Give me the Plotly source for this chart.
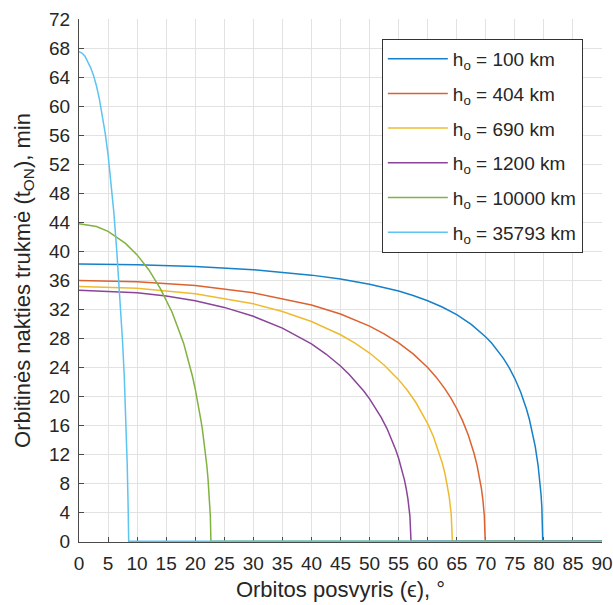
import plotly.graph_objects as go

# Orbit inclination (deg) vs. eclipse duration (min) for several altitudes
beta_100 = [0, 10, 20, 30, 40, 45, 50, 55, 57.5, 60, 62.5, 65, 67.5, 70, 71, 72, 73, 74, 75, 76, 76.5,
            77, 77.5, 78, 78.5, 79, 79.2, 79.5, 79.65, 79.8, 90]
t_100 = [38.2, 38.12, 37.88, 37.43, 36.68, 36.14, 35.43, 34.48, 33.87, 33.15, 32.29, 31.23, 29.89, 28.16, 27.31,
         26.35, 25.24, 23.95, 22.42, 20.56, 19.46, 18.23, 16.80, 15.13, 13.10, 10.46, 9.13, 6.54, 4.65, 0, 0]

beta_404 = [0, 10, 20, 30, 40, 45, 50, 52.5, 55, 57.5, 60, 61.5, 63, 64, 65, 66, 67, 67.5, 68, 68.5, 69,
            69.25, 69.5, 69.75, 69.9, 90]
t_404 = [35.93, 35.77, 35.24, 34.24, 32.56, 31.31, 29.65, 28.59, 27.34, 25.82, 23.94, 22.58, 20.97, 19.73, 18.29,
         16.62, 14.60, 13.42, 12.05, 10.45, 8.48, 7.23, 5.71, 3.51, 0, 0]

beta_690 = [0, 10, 20, 30, 35, 40, 45, 47.5, 50, 52.5, 55, 56.5, 58, 59, 60, 61, 62, 62.5, 63, 63.35,
            63.7, 64.05, 64.25, 90]
t_690 = [35.1, 34.87, 34.12, 32.72, 31.67, 30.29, 28.46, 27.30, 25.94, 24.29, 22.27, 20.81, 19.08, 17.74, 16.21,
         14.39, 12.17, 10.81, 9.22, 7.87, 6.18, 3.75, 0, 0]

beta_1200 = [0, 10, 15, 20, 25, 30, 35, 40, 42.5, 45, 46.5, 48, 49, 50, 51, 52, 53, 54, 54.5, 55, 55.5,
             56, 56.3, 56.6, 56.95, 57.13, 90]
t_1200 = [34.6, 34.25, 33.81, 33.14, 32.23, 31.00, 29.37, 27.19, 25.80, 24.15, 22.99, 21.68, 20.70, 19.62, 18.41,
          17.06, 15.52, 13.68, 12.60, 11.43, 10.07, 8.45, 7.26, 5.83, 3.42, 0, 0]

beta_10000 = [0, 3, 5, 8, 10, 12, 14, 15, 16, 17, 18, 18.5, 19, 19.5, 20, 20.5, 21, 21.25, 21.5, 21.75,
              22, 22.2, 22.4, 22.6, 22.7, 90]
t_10000 = [43.75, 43.38, 42.71, 41.05, 39.47, 37.43, 34.81, 33.23, 31.6, 29.45, 27.3, 25.8, 24.4, 22.8, 21.0,
           19.0, 16.6, 15.3, 13.8, 12.2, 10.4, 8.6, 6.5, 3.5, 0, 0]

beta_35793 = [0, 0.5, 1.0, 1.5, 2.0, 2.5, 3.0, 3.5, 4.0, 4.5, 5.0, 5.5, 6.0, 6.5, 7.0, 7.5, 7.8, 8.1,
              8.3, 8.45, 8.55, 90]
t_35793 = [67.5, 67.3, 66.9, 66.2, 65.3, 64.2, 62.8, 61.0, 58.9, 56.3, 53.3, 49.6, 45.3, 40.0, 34.0, 27.5,
           22.5, 16.0, 10.5, 5.0, 0, 0]

altitudes = ["100", "404", "690", "1200", "10000", "35793"]
colors = ["#1680c8", "#dc6230", "#eebb30", "#8a449a", "#80b240", "#5cc4f0"]
series = [
    (beta_100, t_100),
    (beta_404, t_404),
    (beta_690, t_690),
    (beta_1200, t_1200),
    (beta_10000, t_10000),
    (beta_35793, t_35793),
]

x_ticks = list(range(0, 91, 5))
y_ticks = list(range(0, 73, 4))

fig = go.Figure()
for alt, col, (bx, ty) in zip(altitudes, colors, series):
    fig.add_trace(go.Scatter(
        x=bx, y=ty, mode="lines",
        line=dict(color=col, width=1.5),
        name=f"h<sub>o</sub> = {alt} km",
        legendgroup=alt,
    ))

font_family = "Liberation Sans, Arial, sans-serif"
txt = "#262626"
axis_col = "#4a4a4a"

fig.update_layout(
    width=613, height=605,
    margin=dict(l=79, r=11, t=19, b=63),
    paper_bgcolor="white", plot_bgcolor="white",
    font=dict(family=font_family, size=19, color=txt),
    showlegend=True,
    legend=dict(
        x=0.579, y=0.962, xanchor="left", yanchor="top",
        bgcolor="white", bordercolor="#333333", borderwidth=1,
        font=dict(size=19, color=txt),
        tracegroupgap=7,
        itemwidth=60,
    ),
    xaxis=dict(
        range=[0, 90], tickvals=x_ticks, ticktext=[str(v) for v in x_ticks],
        showgrid=True, gridcolor="#e2e2e2", gridwidth=1,
        showline=True, linecolor=axis_col, linewidth=1,
        ticks="inside", ticklen=5, tickcolor=axis_col,
        zeroline=False, layer="below traces", automargin=False,
        ticklabelstandoff=4,
        tickfont=dict(size=19, color=txt),
        title=dict(text="Orbitos posvyris (\u03f5), \u00b0", font=dict(size=22, color=txt), standoff=8),
    ),
    yaxis=dict(
        range=[-0.12, 72], tickvals=y_ticks, ticktext=[str(v) for v in y_ticks],
        showgrid=True, gridcolor="#e2e2e2", gridwidth=1,
        showline=True, linecolor=axis_col, linewidth=1,
        ticks="inside", ticklen=5, tickcolor=axis_col,
        zeroline=False, layer="below traces", automargin=False,
        ticklabelstandoff=4,
        tickfont=dict(size=19, color=txt),
        title=dict(text="Orbitin\u0117s nakties trukm\u0117 (t<sub>ON</sub>), min", font=dict(size=22, color=txt), standoff=12),
    ),
)

fig.write_html("out.html")
